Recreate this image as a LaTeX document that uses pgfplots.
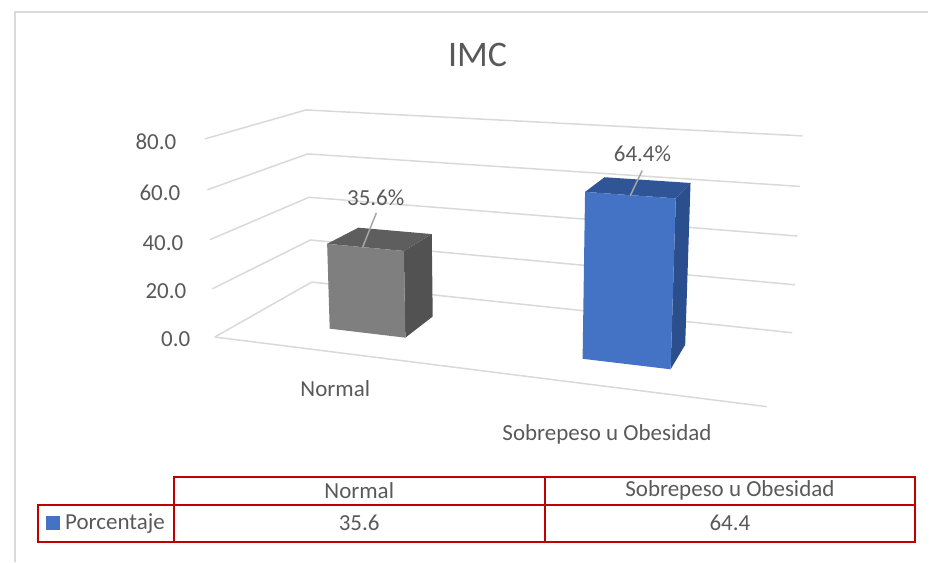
\documentclass[border=0pt]{standalone}
\usepackage{fontspec}
\setmainfont{Carlito}
\usepackage{pgfplots}
\pgfplotsset{compat=1.18}
\usepackage{pgfplotstable}

\definecolor{txt}{HTML}{595959}
\definecolor{gridc}{HTML}{D9D9D9}
\definecolor{grayfront}{HTML}{7F7F7F}
\definecolor{graytop}{HTML}{5E5E5E}
\definecolor{grayside}{HTML}{525252}
\definecolor{bluefront}{HTML}{4472C4}
\definecolor{bluetop}{HTML}{2F5597}
\definecolor{blueside}{HTML}{2B4E8C}
\definecolor{leader}{HTML}{A6A6A6}
\definecolor{tabred}{HTML}{C00000}

% perspective projection of a 3D point (X along categories 0..1,
% Y depth 0..1 front to back, Z value) onto the drawing plane
\pgfkeys{/pgfplots/table/proj/.style={
  x expr={(215+437.8*\thisrow{X}+145.83*\thisrow{Y}-0.212125*\thisrow{Z})/(1-0.1494*\thisrow{X}+0.1565*\thisrow{Y}-0.00042438*\thisrow{Z})},
  y expr={(337.3+8.88*\thisrow{X}-10.82*\thisrow{Y}-2.5375*\thisrow{Z})/(1-0.1494*\thisrow{X}+0.1565*\thisrow{Y}-0.00042438*\thisrow{Z})}
}}

\newcommand{\lbl}{\fontsize{23}{27}\selectfont}

\begin{document}
\begin{tikzpicture}
\begin{axis}[
  width=929pt, height=562pt, scale only axis,
  xmin=0, xmax=929, ymin=0, ymax=562, y dir=reverse,
  hide axis, clip=false, no markers,
]
\path (rel axis cs:0,0) rectangle (rel axis cs:1,1);

% chart frame
\draw[gridc, line width=1.5pt] (axis cs:15,562) -- (axis cs:15,12) -- (axis cs:929,12);

% side wall and back wall gridlines
\addplot[gridc, line width=1.5pt] table[proj] {
X Y Z
0 0 0
0 1 0
1 1 0
};
\addplot[gridc, line width=1.5pt] table[proj] {
X Y Z
0 0 20
0 1 20
1 1 20
};
\addplot[gridc, line width=1.5pt] table[proj] {
X Y Z
0 0 40
0 1 40
1 1 40
};
\addplot[gridc, line width=1.5pt] table[proj] {
X Y Z
0 0 60
0 1 60
1 1 60
};
\addplot[gridc, line width=1.5pt] table[proj] {
X Y Z
0 0 80
0 1 80
1 1 80
};
% floor front edge
\addplot[gridc, line width=1.5pt] table[proj] {
X Y Z
0 0 0
1 0 0
};

% Normal: 35.6
\addplot[fill=grayside, draw=none] table[proj] {
X Y Z
0.333 0.30 0
0.333 0.65 0
0.333 0.65 35.6
0.333 0.30 35.6
};
\addplot[fill=graytop, draw=none] table[proj] {
X Y Z
0.178 0.30 35.6
0.333 0.30 35.6
0.333 0.65 35.6
0.178 0.65 35.6
};
\addplot[fill=grayfront, draw=none] table[proj] {
X Y Z
0.178 0.30 0
0.333 0.30 0
0.333 0.30 35.6
0.178 0.30 35.6
};

% Sobrepeso u Obesidad: 64.4
\addplot[fill=blueside, draw=none] table[proj] {
X Y Z
0.825 0.30 0
0.825 0.65 0
0.825 0.65 64.4
0.825 0.30 64.4
};
\addplot[fill=bluetop, draw=none] table[proj] {
X Y Z
0.670 0.30 64.4
0.825 0.30 64.4
0.825 0.65 64.4
0.670 0.65 64.4
};
\addplot[fill=bluefront, draw=none] table[proj] {
X Y Z
0.670 0.30 0
0.825 0.30 0
0.825 0.30 64.4
0.670 0.30 64.4
};

% data label leader lines
\addplot[leader, line width=1.5pt] coordinates {(376.7,213) (362.7,248)};
\addplot[leader, line width=1.5pt] coordinates {(642.7,170.7) (630.7,196)};

% title
\node[font=\fontsize{36}{40}\selectfont, text=txt] at (axis cs:478,55) {IMC};

% value axis labels
\node[font=\lbl, text=txt, anchor=east] at (axis cs:194,339) {0.0};
\node[font=\lbl, text=txt, anchor=east] at (axis cs:190,291.7) {20.0};
\node[font=\lbl, text=txt, anchor=east] at (axis cs:187,243) {40.0};
\node[font=\lbl, text=txt, anchor=east] at (axis cs:184,192.7) {60.0};
\node[font=\lbl, text=txt, anchor=east] at (axis cs:180,141.7) {80.0};

% category labels
\node[font=\lbl, text=txt] at (axis cs:335.5,389) {Normal};
\node[font=\lbl, text=txt] at (axis cs:607.5,435) {Sobrepeso u Obesidad};

% data labels
\node[font=\lbl, text=txt] at (axis cs:376,198) {35.6\%};
\node[font=\lbl, text=txt] at (axis cs:643,154) {64.4\%};

% data table
\draw[tabred, line width=2pt] (axis cs:174,477.3) rectangle (axis cs:916,505);
\draw[tabred, line width=2pt] (axis cs:38.3,505) rectangle (axis cs:916,542.3);
\draw[tabred, line width=2pt] (axis cs:174,477.3) -- (axis cs:174,542.3);
\draw[tabred, line width=2pt] (axis cs:545,477.3) -- (axis cs:545,542.3);
\fill[bluefront] (axis cs:46,516) rectangle (axis cs:60,530);
\node[font=\lbl, text=txt, anchor=west, inner sep=0pt] at (axis cs:65,523.5) {Porcentaje};
\node[font=\lbl, text=txt] at (axis cs:359.5,491) {Normal};
\node[font=\lbl, text=txt] at (axis cs:730.5,491) {Sobrepeso u Obesidad};
\node[font=\lbl, text=txt] at (axis cs:359.5,523.5) {35.6};
\node[font=\lbl, text=txt] at (axis cs:730.5,523.5) {64.4};
\end{axis}
\end{tikzpicture}
\end{document}
